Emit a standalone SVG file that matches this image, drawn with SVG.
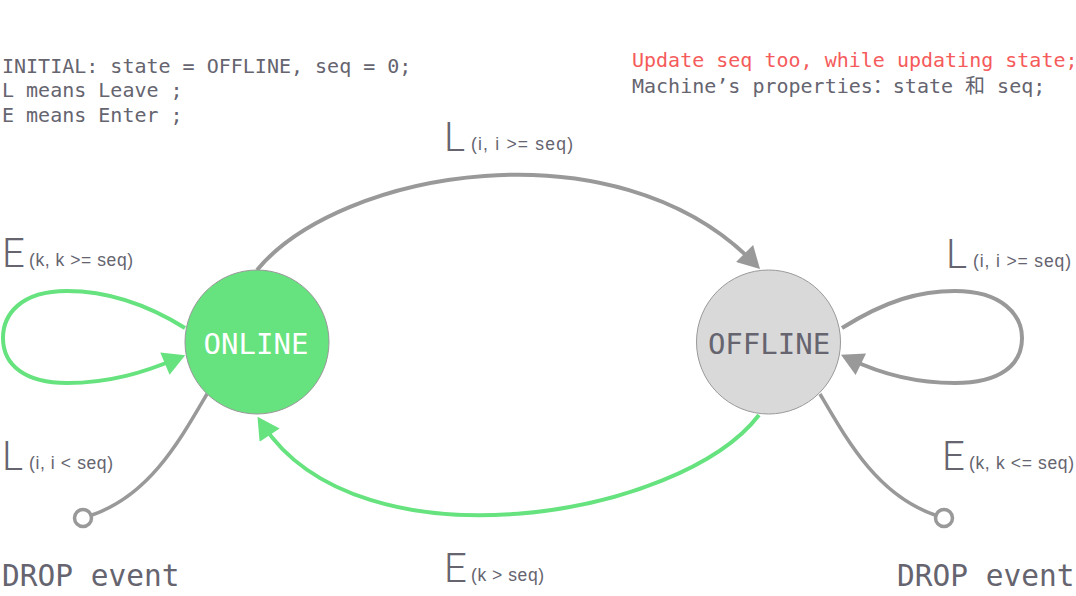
<svg xmlns="http://www.w3.org/2000/svg" width="1076" height="596" viewBox="0 0 1076 596">
<style>
.mono{font-family:"DejaVu Sans Mono","Noto Sans CJK SC",monospace;}
.note{font-size:20px;fill:#65646f;}
.red{fill:#f55b5b;}
.state{font-size:29px;text-anchor:middle;}
.drop{font-size:29.5px;fill:#65646f;}
.big{font-family:Roboto,"Liberation Sans",sans-serif;font-weight:300;font-size:40px;fill:#65646f;}
.sub{font-family:"Liberation Sans",Arial,sans-serif;font-size:17.5px;fill:#65646f;}
.gray{fill:none;stroke:#999999;stroke-width:4;}
.green{fill:none;stroke:#66e27f;stroke-width:4;}
.dropline{fill:none;stroke:#999999;stroke-width:3.5;}
</style>
<defs>
<marker id="ag" markerUnits="userSpaceOnUse" markerWidth="24" markerHeight="24" viewBox="0 0 22 24" refX="12" refY="12" orient="auto">
<path d="M0,0 L22,12 L0,24 Z" fill="#999999"/>
</marker>
<marker id="agr" markerUnits="userSpaceOnUse" markerWidth="24" markerHeight="24" viewBox="0 0 22 24" refX="12" refY="12" orient="auto">
<path d="M0,0 L22,12 L0,24 Z" fill="#66e27f"/>
</marker>
</defs>
<rect width="1076" height="596" fill="#ffffff"/>

<g id="notes" class="mono">
<text class="note" x="2" y="73">INITIAL: state = OFFLINE, seq = 0;</text>
<text class="note" x="2" y="97">L means Leave ;</text>
<text class="note" x="2" y="122">E means Enter ;</text>
<text class="note red" x="632" y="67">Update seq too, while updating state;</text>
<text class="note" x="632" y="93">Machine’s properties：state 和 seq;</text>
</g>

<g id="connectors">
<path class="gray" d="M257,270 C340,170 615,122 753,262" marker-end="url(#ag)"/>
<path class="green" d="M759,415 C680,518 360,572 263,425" marker-end="url(#agr)"/>
<path class="green" d="M185,328 C140,300 100,291 67,291 C20,291 3,315 3,338 C3,365 25,383 67,383 C110,383 145,372 176,359" marker-end="url(#agr)"/>
<path class="gray" d="M842,328 C887,300 920,291 955,291 C1002,291 1022,315 1022,338 C1022,365 1000,383 955,383 C912,383 877,372 850,359" marker-end="url(#ag)"/>
<path class="dropline" d="M207,394 C180,440 150,495 92,515"/>
<path class="dropline" d="M820,394 C847,440 877,495 935,515"/>
</g>

<g id="labels">
<text class="big" x="444" y="151">L</text><text class="sub" x="471" y="150" textLength="102" lengthAdjust="spacing">(i,  i &gt;= seq)</text>
<text class="big" x="2" y="267">E</text><text class="sub" x="29" y="266" textLength="104" lengthAdjust="spacing">(k, k &gt;= seq)</text>
<text class="big" x="946" y="268">L</text><text class="sub" x="973" y="267" textLength="98" lengthAdjust="spacing">(i,  i &gt;= seq)</text>
<text class="big" x="2" y="470">L</text><text class="sub" x="29" y="469" textLength="84" lengthAdjust="spacing">(i, i &lt; seq)</text>
<text class="big" x="942" y="470">E</text><text class="sub" x="969" y="469" textLength="105" lengthAdjust="spacing">(k, k &lt;= seq)</text>
<text class="big" x="444" y="582">E</text><text class="sub" x="471" y="581" textLength="73" lengthAdjust="spacing">(k &gt; seq)</text>
</g>

<g id="online">
<circle cx="257" cy="342" r="72" fill="#66e27f" stroke="#999999" stroke-width="1"/>
<text class="mono state" x="256" y="354" fill="#ffffff">ONLINE</text>
</g>
<g id="offline">
<circle cx="768.5" cy="342" r="72" fill="#d9d9d9" stroke="#999999" stroke-width="1"/>
<text class="mono state" x="769" y="354" fill="#65646f">OFFLINE</text>
</g>
<g id="drop-left">
<circle cx="83" cy="518" r="8.5" fill="#ffffff" stroke="#999999" stroke-width="3.5"/>
<text class="mono drop" x="2" y="586">DROP event</text>
</g>
<g id="drop-right">
<circle cx="944" cy="518" r="8.5" fill="#ffffff" stroke="#999999" stroke-width="3.5"/>
<text class="mono drop" x="897" y="586">DROP event</text>
</g>
</svg>
